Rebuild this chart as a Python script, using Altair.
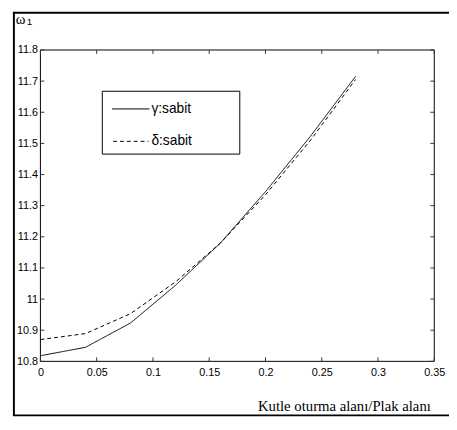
import altair as alt
import pandas as pd

# data
x_vals = [0, 0.04, 0.08, 0.12, 0.16, 0.20, 0.24, 0.28]
gamma_vals = [10.818, 10.845, 10.923, 11.044, 11.18, 11.345, 11.523, 11.715]
delta_vals = [10.870, 10.889, 10.953, 11.055, 11.18, 11.335, 11.510, 11.705]
series_names = ["γ:sabit", "δ:sabit"]
x_ticks = [0, 0.05, 0.1, 0.15, 0.2, 0.25, 0.3, 0.35]
y_ticks = [10.8, 10.9, 11.0, 11.1, 11.2, 11.3, 11.4, 11.5, 11.6, 11.7, 11.8]
x_title = "Kutle oturma alanı/Plak alanı"

W, H = 401, 317
SANS = "Liberation Sans"
SERIF = "Liberation Serif"

rows = []
for xv, g, d in zip(x_vals, gamma_vals, delta_vals):
    rows.append({"x": xv, "y": g, "s": series_names[0]})
    rows.append({"x": xv, "y": d, "s": series_names[1]})
df = pd.DataFrame(rows)

xs = alt.Scale(domain=[0, 0.35], nice=False, zero=False)
ys = alt.Scale(domain=[10.8, 11.8], nice=False, zero=False)

xaxis = alt.Axis(values=x_ticks, labelExpr="format(datum.value, '.2~f')", ticks=False, domain=False,
                 grid=False, labelFont=SANS, labelFontSize=11, labelColor="black", labelPadding=5,
                 labelOverlap=False, labelFlush=False,
                 title=x_title, titleFont=SERIF, titleFontSize=15, titleFontWeight="normal",
                 titleColor="black", titleX=309, titleY=45, titleAlign="center", titleBaseline="middle")
yaxis = alt.Axis(values=y_ticks, labelExpr="format(datum.value, '.2~f')", ticks=False, domain=False,
                 grid=False, labelFont=SANS, labelFontSize=11, labelColor="black", labelPadding=3,
                 labelOverlap=False, labelFlush=False, title=None)

lines = alt.Chart(df).mark_line(color="black", strokeWidth=1, clip=False).encode(
    x=alt.X("x:Q", scale=xs, axis=xaxis),
    y=alt.Y("y:Q", scale=ys, axis=yaxis),
    strokeDash=alt.StrokeDash("s:N", scale=alt.Scale(domain=series_names, range=[[1, 0], [4, 3]]), legend=None),
    detail="s:N",
)

one = pd.DataFrame({"a": [0]})

box = alt.Chart(one).mark_rect(filled=False, stroke="black", strokeWidth=1).encode(
    x=alt.value(0), x2=alt.value(W), y=alt.value(0), y2=alt.value(H))

xt = pd.DataFrame({"t": x_ticks})
yt = pd.DataFrame({"t": y_ticks})
tick_col = "#333333"
xtick_b = alt.Chart(xt).mark_rule(color=tick_col, strokeWidth=1).encode(
    x=alt.X("t:Q", scale=xs, axis=xaxis, title=x_title), y=alt.value(H), y2=alt.value(H - 4))
xtick_t = alt.Chart(xt).mark_rule(color=tick_col, strokeWidth=1).encode(
    x=alt.X("t:Q", scale=xs, axis=xaxis, title=x_title), y=alt.value(0), y2=alt.value(4))
ytick_l = alt.Chart(yt).mark_rule(color=tick_col, strokeWidth=1).encode(
    y=alt.Y("t:Q", scale=ys, axis=yaxis), x=alt.value(0), x2=alt.value(4))
ytick_r = alt.Chart(yt).mark_rule(color=tick_col, strokeWidth=1).encode(
    y=alt.Y("t:Q", scale=ys, axis=yaxis), x=alt.value(W), x2=alt.value(W - 4))

# legend
leg_box = alt.Chart(one).mark_rect(filled=False, stroke="black", strokeWidth=1).encode(
    x=alt.value(63), x2=alt.value(203), y=alt.value(42), y2=alt.value(106))
leg_l1 = alt.Chart(one).mark_rule(color="black", strokeWidth=1).encode(
    x=alt.value(73), x2=alt.value(111), y=alt.value(60))
leg_l2 = alt.Chart(one).mark_rule(color="black", strokeWidth=1, strokeDash=[4, 3]).encode(
    x=alt.value(74), x2=alt.value(110), y=alt.value(93))
leg_t1 = alt.Chart(one).mark_text(text=series_names[0], font=SANS, fontSize=14, align="left",
                                  baseline="middle", color="black").encode(
    x=alt.value(113), y=alt.value(60))
leg_t2 = alt.Chart(one).mark_text(text=series_names[1], font=SANS, fontSize=14, align="left",
                                  baseline="middle", color="black").encode(
    x=alt.value(113), y=alt.value(93))

# y label omega_1
om = alt.Chart(one).mark_text(text="ω", font=SERIF, fontSize=15, align="left",
                              baseline="middle", color="black").encode(
    x=alt.value(-25), y=alt.value(-31))
om1 = alt.Chart(one).mark_text(text="1", font=SANS, fontSize=10, align="left",
                               baseline="middle", color="black").encode(
    x=alt.value(-14), y=alt.value(-28))

# outer frame (left, top, bottom)
fr_left = alt.Chart(one).mark_rule(color="black", strokeWidth=2).encode(
    x=alt.value(-27), y=alt.value(-38), y2=alt.value(372))
fr_top = alt.Chart(one).mark_rule(color="black", strokeWidth=2).encode(
    x=alt.value(-28), x2=alt.value(430), y=alt.value(-38))
fr_bot = alt.Chart(one).mark_rule(color="black", strokeWidth=2).encode(
    x=alt.value(-28), x2=alt.value(430), y=alt.value(372))

chart = alt.layer(fr_left, fr_top, fr_bot, box, xtick_b, xtick_t, ytick_l, ytick_r, lines,
                  leg_box, leg_l1, leg_l2, leg_t1, leg_t2, om, om1).properties(
    width=W, height=H,
    autosize=alt.AutoSizeParams(type="none"),
    padding={"left": 33, "top": 39, "right": 15, "bottom": 58},
    background="white",
).configure_view(stroke=None)

chart.save("out.html", embed_options={"renderer": "svg", "actions": False})
